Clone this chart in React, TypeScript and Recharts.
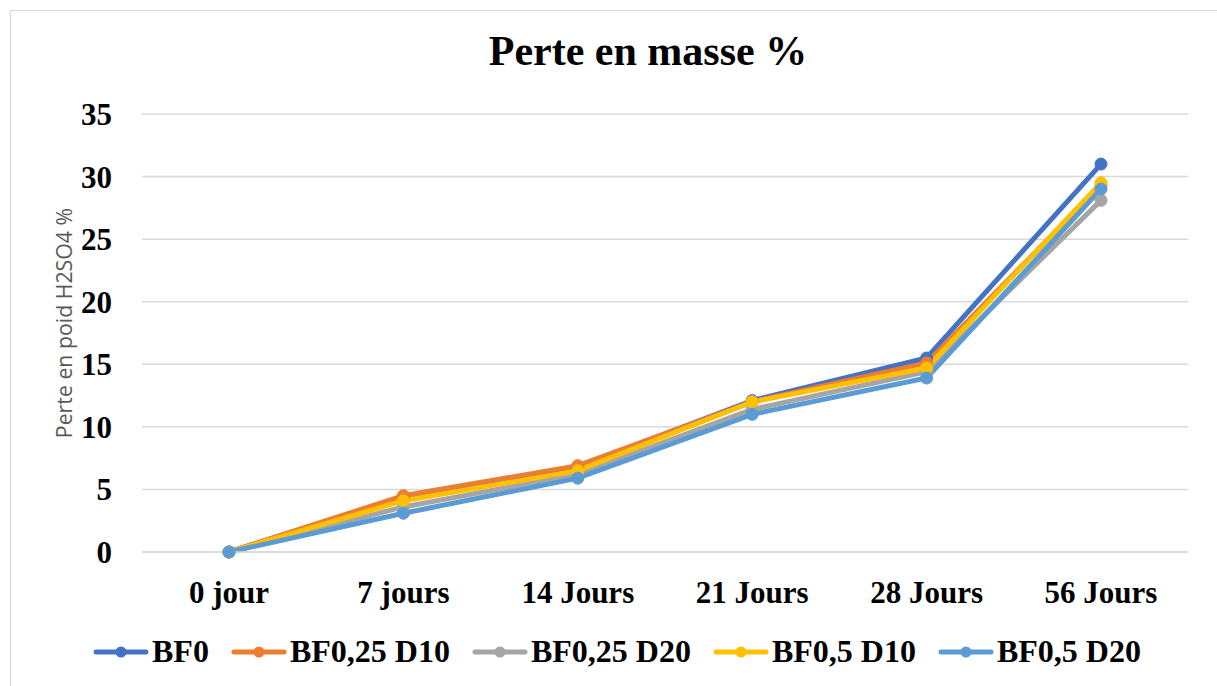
import { LineChart, Line, XAxis, YAxis, CartesianGrid, Label } from "recharts";

const categories = ["0 jour", "7 jours", "14 Jours", "21 Jours", "28 Jours", "56 Jours"];
const bf0 = [0, 4.4, 6.8, 12.1, 15.5, 31.0];
const bf025d10 = [0, 4.5, 6.9, 12.0, 15.1, 29.3];
const bf025d20 = [0, 3.6, 6.2, 11.4, 14.4, 28.1];
const bf05d10 = [0, 4.1, 6.5, 12.0, 14.7, 29.5];
const bf05d20 = [0, 3.1, 5.9, 11.0, 13.9, 29.0];
const yTicks = [0, 5, 10, 15, 20, 25, 30, 35];

const SERIES = [
  { key: "BF0", values: bf0, color: "#4472C4" },
  { key: "BF0,25 D10", values: bf025d10, color: "#ED7D31" },
  { key: "BF0,25 D20", values: bf025d20, color: "#A5A5A5" },
  { key: "BF0,5 D10", values: bf05d10, color: "#FFC000" },
  { key: "BF0,5 D20", values: bf05d20, color: "#5B9BD5" },
];

const data = categories.map((c, i) => {
  const row: Record<string, string | number> = { name: c };
  SERIES.forEach((s) => {
    row[s.key] = s.values[i];
  });
  return row;
});

const SERIF = "'Liberation Serif', 'Times New Roman', serif";

// y axis title, rotated, a bit above the middle of the plot like the original
function YTitle({ viewBox }: { viewBox?: { x: number; y: number; width: number; height: number } }) {
  if (!viewBox) return null;
  const cx = viewBox.x + 63;
  const cy = viewBox.y + viewBox.height / 2 - 10;
  return (
    <text
      x={cx}
      y={cy}
      transform={`rotate(-90, ${cx}, ${cy})`}
      textAnchor="middle"
      dominantBaseline="central"
      fill="#595959"
      fontSize={21.3}
      fontFamily="'Open Sans', Arial, sans-serif"
    >
      Perte en poid H2SO4 %
    </text>
  );
}

function ChartLegend() {
  return (
    <div
      style={{
        position: "absolute",
        left: 93,
        top: 633,
        display: "flex",
        alignItems: "center",
        gap: 22,
        fontFamily: SERIF,
        fontWeight: "bold",
        fontSize: 32,
        color: "#000",
        whiteSpace: "nowrap",
      }}
    >
      {SERIES.map((s) => (
        <div key={s.key} style={{ display: "flex", alignItems: "center" }}>
          <svg width={56} height={14} style={{ marginRight: 3 }}>
            <line x1={3} y1={7} x2={53} y2={7} stroke={s.color} strokeWidth={5} strokeLinecap="round" />
            <circle cx={28} cy={7} r={5.5} fill={s.color} />
          </svg>
          <span>{s.key}</span>
        </div>
      ))}
    </div>
  );
}

export default function App() {
  return (
    <div style={{ position: "absolute", left: 0, top: 0, width: 1217, height: 686, background: "#fff", overflow: "hidden" }}>
      <div style={{ position: "absolute", left: 10, top: 10, width: 1210, height: 680, border: "1px solid #d9d9d9" }} />
      <div
        style={{
          position: "absolute",
          left: 0,
          top: 27,
          width: 1296,
          textAlign: "center",
          fontFamily: SERIF,
          fontWeight: "bold",
          fontSize: 42,
          color: "#000",
        }}
      >
        Perte en masse %
      </div>
      <div style={{ position: "absolute", left: 0, top: 0 }}>
        <LineChart width={1217} height={686} data={data} margin={{ top: 114, right: 29, bottom: 104, left: 0 }}>
          <CartesianGrid vertical={false} stroke="#d9d9d9" strokeWidth={1.5} />
          <XAxis
            dataKey="name"
            height={30}
            tickLine={false}
            tickSize={0}
            tickMargin={29}
            padding={{ left: 87, right: 87 }}
            axisLine={{ stroke: "#d9d9d9", strokeWidth: 1.5 }}
            tick={{ fill: "#000", fontSize: 31, fontWeight: "bold", fontFamily: SERIF }}
            interval={0}
          />
          <YAxis
            width={142}
            domain={[0, 35]}
            ticks={yTicks}
            tickLine={false}
            tickSize={0}
            tickMargin={30}
            axisLine={false}
            tick={{ fill: "#000", fontSize: 31, fontWeight: "bold", fontFamily: SERIF }}
          >
            <Label content={<YTitle />} />
          </YAxis>
          {SERIES.map((s) => (
            <Line
              key={s.key}
              type="linear"
              dataKey={s.key}
              stroke={s.color}
              strokeWidth={5}
              dot={{ r: 6, fill: s.color, stroke: s.color, strokeWidth: 1 }}
              activeDot={false}
              isAnimationActive={false}
            />
          ))}
        </LineChart>
      </div>
      <ChartLegend />
    </div>
  );
}
